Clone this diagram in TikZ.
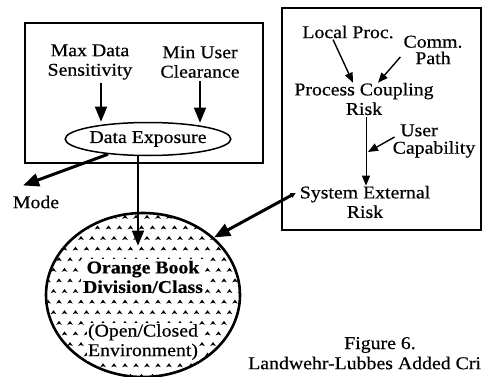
\documentclass[tikz,border=0pt]{standalone}
\usepackage{fontspec}
\setmainfont[FakeStretch=1.1,FakeBold=0.5]{Liberation Serif}
\usetikzlibrary{arrows.meta,shapes.geometric}
\newcommand\lblfont{\fontsize{18}{19.5}\selectfont}

\begin{document}
\begin{tikzpicture}[x=1pt,y=-1pt,
  lbl/.style={font=\lblfont, align=center, inner sep=0pt},
  boldlbl/.style={font=\lblfont\bfseries, align=center, inner sep=2pt, fill=white},
  inlbl/.style={font=\lblfont, align=center, inner sep=1.5pt, fill=white},
  frame/.style={line width=2pt},
  bigarr/.style={line width=1.4pt, -{Triangle[width=12pt,length=15pt]}},
  thinarr/.style={line width=1.4pt, -{Triangle[width=8pt,length=10pt]}},
  fatarr/.style={line width=3pt, -{Triangle[width=13pt,length=16pt]}},
  caret/.style={fill=black},
]
\useasboundingbox (0,0) rectangle (484,377);

% the two frames
\draw[frame] (25,23) rectangle (263,163);
\draw[frame] (282,8) rectangle (481,230);

% left frame contents
\node[lbl] (msens) at (90,62) {Max Data\\Sensitivity};
\node[lbl] (muser) at (200,62) {Min User\\Clearance};
\node[draw, ellipse, line width=1.5pt, minimum width=160pt, minimum height=33pt,
      inner sep=0pt, font=\lblfont] (dexp) at (148,139) {Data Exposure};
\draw[bigarr, shorten <=3pt] ([xshift=11pt]msens.south) -- ([xshift=11pt]msens.south |- dexp.north);
\draw[bigarr, shorten <=3pt] (muser.south) -- ([yshift=-1pt]muser.south |- dexp.north);

\node[lbl] (mode) at (36,202) {Mode};
\draw[fatarr] ([shift={(-40,-2)}]dexp.south) -- ([shift={(-13,-10)}]mode.north);

% shaded division/class oval
\begin{scope}
  \clip (143,295) ellipse [x radius=96, y radius=81];
  \foreach \r in {0,...,16}{
    \foreach \c in {0,...,18}{
      \pgfmathsetmacro\cx{48+11*\c+mod(\r,2)*5.5}
      \pgfmathsetmacro\cy{217+10.6*\r}
      \fill[caret] (\cx-2.8,\cy+1.8) -- (\cx,\cy-2.2) -- (\cx+2.8,\cy+1.8)
                   -- (\cx,\cy+0.8) -- cycle;
    }
  }
\end{scope}
\node[draw, ellipse, line width=2.6pt, minimum width=194pt, minimum height=164pt,
      inner sep=0pt] (ob) at (143,295) {};
\node[boldlbl] (obtitle) at (143,277) {Orange Book\\Division/Class};
\node[inlbl] (obenv) at (143,342) {(Open/Closed\\Environment)};

\draw[bigarr] ([xshift=-10pt]dexp.south) -- ([shift={(-5,34)}]ob.north);

% right frame contents
\node[lbl] (lproc) at (348,32) {Local Proc.};
\node[lbl] (comm) at (433,50) {Comm.\\[-3pt]Path};
\node[lbl] (pcr) at (364,99) {Process Coupling\\Risk};
\node[lbl] (ucap) at (434,141) {\hspace*{-30pt}User\\[-2pt]Capability};
\node[lbl] (ser) at (365,202) {System External\\Risk};
\coordinate (ujoin) at (368,152);

\draw[thinarr] ([xshift=-15pt,yshift=-1pt]lproc.south) -- ([xshift=-11pt]pcr.north);
\draw[thinarr] ([xshift=-3pt,yshift=-7pt]comm.west) -- ([xshift=14pt]pcr.north);
\draw[thinarr, line width=1pt] ([xshift=2pt,yshift=-2pt]pcr.south) -- ([xshift=2pt]pcr.south |- ser.north);
\draw[thinarr] ([xshift=2pt,yshift=4pt]ucap.west) -- (ujoin);

\draw[line width=3pt, {Triangle[width=5pt,length=5pt]}-{Triangle[width=13pt,length=16pt]}]
  ([xshift=-4pt,yshift=9pt]ser.west) -- (ob.39);

% caption
\node[lbl] (fig) at (380,345) {Figure 6.};
\node[lbl, anchor=west] (cap) at (248,363) {Landwehr-Lubbes Added Cri};
\end{tikzpicture}
\end{document}
